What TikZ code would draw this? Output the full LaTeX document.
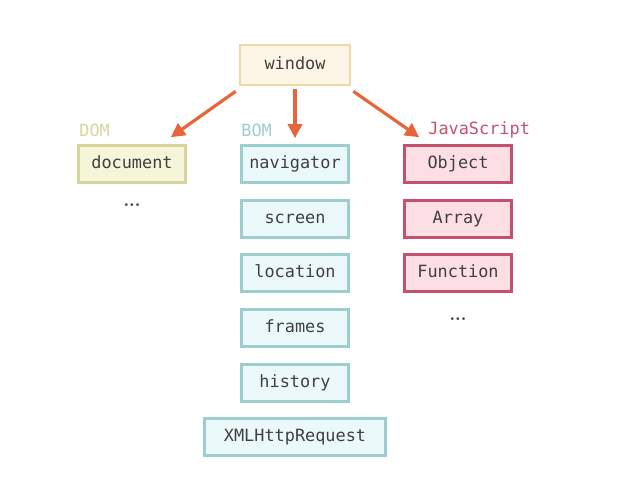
\documentclass[tikz,border=0pt]{standalone}
\usepackage{fontspec}
\setmonofont{DejaVu Sans Mono}
\usetikzlibrary{arrows.meta}
\usetikzlibrary{positioning}

\definecolor{arrowred}{HTML}{E8653A}
\definecolor{winfill}{HTML}{FDF6E6}
\definecolor{windraw}{HTML}{EED9A6}
\definecolor{domfill}{HTML}{F5F5DA}
\definecolor{domdraw}{HTML}{D5D59C}
\definecolor{bomfill}{HTML}{EBF9FA}
\definecolor{bomdraw}{HTML}{9CCDCF}
\definecolor{jsfill}{HTML}{FCDEE4}
\definecolor{jsdraw}{HTML}{C4506E}
\definecolor{txt}{HTML}{404040}

\tikzset{
  obj/.style={draw, line width=1.5pt, minimum width=2.14cm, minimum height=0.74cm,
    inner sep=0pt, text height=1.6ex, text depth=0.4ex,
    font=\ttfamily\fontsize{9.6}{11}\selectfont, text=txt},
  winbox/.style={obj, fill=winfill, draw=windraw, minimum width=2.2cm, minimum height=0.8cm},
  dombox/.style={obj, fill=domfill, draw=domdraw},
  bombox/.style={obj, fill=bomfill, draw=bomdraw},
  jsbox/.style={obj, fill=jsfill, draw=jsdraw},
  grp/.style={anchor=west, inner sep=0pt, font=\ttfamily\fontsize{9.6}{11}\selectfont},
  arr/.style={arrowred, line width=1.8pt, -{Triangle[length=8pt,width=8pt]}}
}

\begin{document}
\begin{tikzpicture}
\useasboundingbox (0,0) rectangle (12.8,-9.6);
\node[winbox] (window) at (5.9,-1.3) {window};
% DOM
\node[grp, text=domdraw] (dom) at (1.58,-2.6) {DOM};
\node[dombox] (document) at (2.64,-3.28) {document};
\node[text=txt] (domdots) at (2.64,-4.1) {\textbf{...}};
% BOM
\node[grp, text=bomdraw] (bom) at (4.82,-2.6) {BOM};
\node[bombox] (navigator) at (5.9,-3.28) {navigator};
\node[bombox] (screen) at (5.9,-4.38) {screen};
\node[bombox] (location) at (5.9,-5.46) {location};
\node[bombox] (frames) at (5.9,-6.56) {frames};
\node[bombox] (history) at (5.9,-7.66) {history};
\node[bombox, minimum width=3.62cm] (xhr) at (5.9,-8.74) {XMLHttpRequest};
% JavaScript
\node[grp, text=jsdraw] (js) at (8.56,-2.6) {JavaScript};
\node[jsbox] (object) at (9.16,-3.28) {Object};
\node[jsbox] (array) at (9.16,-4.38) {Array};
\node[jsbox] (function) at (9.16,-5.46) {Function};
\node[text=txt] (jsdots) at (9.16,-6.38) {\textbf{...}};
% arrows
\draw[arr] ([shift={(-0.06,-0.1)}]window.south west) -- ([shift={(-0.32,0.14)}]document.north east);
\draw[arr] ([yshift=-0.06cm]window.south) -- ([yshift=0.12cm]navigator.north);
\draw[arr] ([shift={(0.04,-0.1)}]window.south east) -- ([shift={(0.32,0.14)}]object.north west);
\end{tikzpicture}
\end{document}
